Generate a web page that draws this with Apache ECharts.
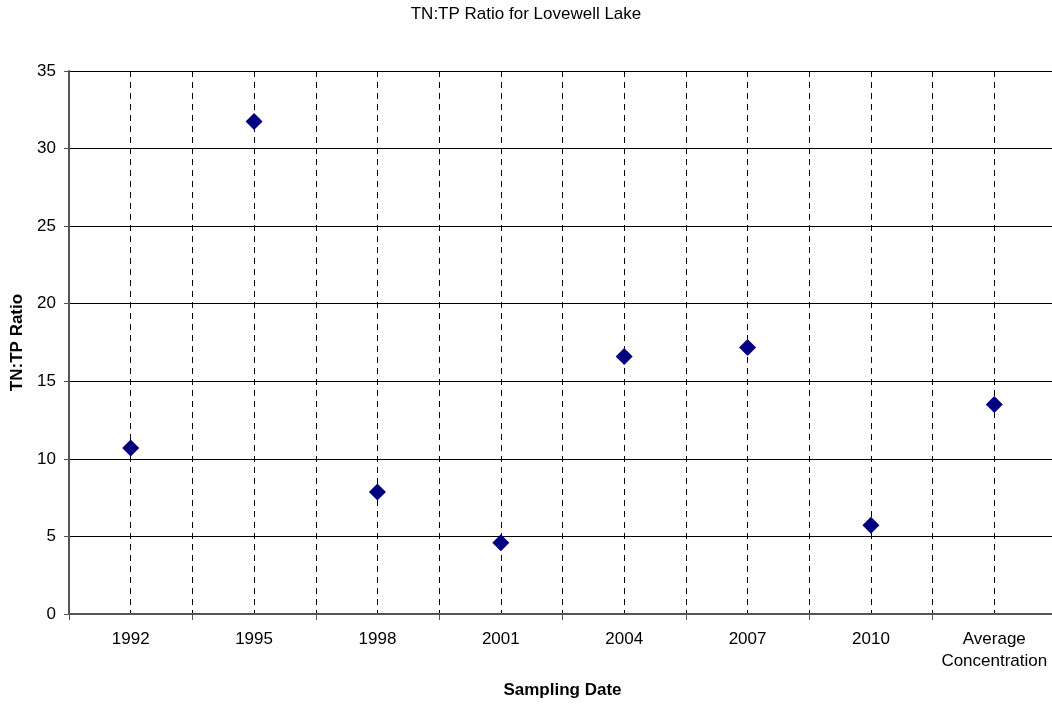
<!DOCTYPE html>
<html>
<head>
<meta charset="utf-8">
<script src="https://cdn.jsdelivr.net/npm/echarts@6/dist/echarts.min.js"></script>
<style>
html,body{margin:0;padding:0;background:#fff;}
#chart{width:1052px;height:704px;}
</style>
</head>
<body>
<div id="chart"></div>
<script>
const categories = ['1992', '1995', '1998', '2001', '2004', '2007', '2010', 'Average\nConcentration'];
const ratioValues = [10.7, 31.75, 7.86, 4.6, 16.6, 17.17, 5.72, 13.5];
const yTicks = { min: 0, max: 35, interval: 5 };
const titleText = 'TN:TP Ratio for Lovewell Lake';
const yName = 'TN:TP Ratio';
const xName = 'Sampling Date';

// helper axis: half-category slots so dashed lines fall on centres and boundaries
const halfSlots = new Array(categories.length * 2).fill('');

const font = 'Liberation Sans, Arial, sans-serif';
const chart = echarts.init(document.getElementById('chart'), null, { renderer: 'canvas' });
chart.setOption({
  animation: false,
  backgroundColor: '#fff',
  title: {
    text: titleText,
    left: 'center',
    top: 1,
    textStyle: { fontFamily: font, fontSize: 17, fontWeight: 'normal', color: '#000' }
  },
  grid: { left: 69, width: 987, top: 71, bottom: 90, containLabel: false, outerBoundsMode: 'none' },
  xAxis: [
    {
      type: 'category',
      data: categories,
      boundaryGap: true,
      name: xName,
      nameLocation: 'middle',
      nameGap: 68,
      nameTextStyle: { fontFamily: font, fontSize: 17, fontWeight: 'bold', color: '#000' },
      axisLine: { show: true, lineStyle: { color: '#555', width: 2 } },
      axisTick: { show: true, inside: false, length: 6, interval: 0, lineStyle: { color: '#555', width: 1 } },
      axisLabel: { interval: 0, margin: 14, fontFamily: font, fontSize: 17, color: '#000', lineHeight: 22 },
      splitLine: { show: false }
    },
    {
      type: 'category',
      data: halfSlots,
      boundaryGap: true,
      position: 'bottom',
      axisLine: { show: false },
      axisTick: { show: false },
      axisLabel: { show: false },
      splitLine: { show: true, interval: 0, lineStyle: { color: '#000', width: 1, type: [6, 5] } }
    }
  ],
  yAxis: {
    type: 'value',
    min: yTicks.min,
    max: yTicks.max,
    interval: yTicks.interval,
    name: yName,
    nameLocation: 'middle',
    nameGap: 43,
    nameTextStyle: { fontFamily: font, fontSize: 17, fontWeight: 'bold', color: '#000' },
    axisLine: { show: true, lineStyle: { color: '#555', width: 2 } },
    axisTick: { show: true, inside: false, length: 5, lineStyle: { color: '#555', width: 1 } },
    axisLabel: { margin: 13, fontFamily: font, fontSize: 17, color: '#000' },
    splitLine: { show: true, lineStyle: { color: '#000', width: 1, type: 'solid' } }
  },
  series: [{
    type: 'scatter',
    xAxisIndex: 0,
    data: ratioValues,
    symbol: 'diamond',
    symbolSize: 17,
    itemStyle: { color: '#000080', opacity: 1 },
    z: 5
  }]
});
</script>
</body>
</html>
